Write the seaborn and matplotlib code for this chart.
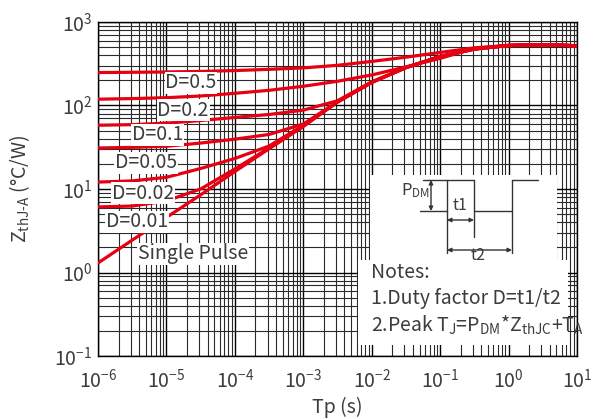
import matplotlib
matplotlib.use("Agg")
import matplotlib.pyplot as plt
import numpy as np
import pandas as pd
import seaborn as sns
from matplotlib.ticker import FixedLocator, FixedFormatter, NullFormatter
from matplotlib.patches import Polygon

# Pulse width Tp (s), half-decade steps
tp = [1e-6, 3.16e-6, 1e-5, 3.16e-5, 1e-4, 3.16e-4, 1e-3, 3.16e-3,
      1e-2, 3.16e-2, 1e-1, 3.16e-1, 1e0, 3.16e0, 1e1]

# Transient thermal impedance Z_thJ-A (°C/W) for each duty factor
z_d050 = [248, 250, 252, 256, 262, 271, 282, 303, 337, 379, 432, 490, 525, 535, 520]
z_d020 = [119, 121, 124, 130, 140, 152, 170, 195, 232, 290, 367, 482, 525, 535, 520]
z_d010 = [58, 59, 61.5, 66, 72, 78, 88, 114, 192, 286, 387, 476, 524, 534, 520]
z_d005 = [31, 31.5, 32.5, 35.5, 39.5, 45, 60, 111, 190, 285, 386, 475, 524, 534, 520]
z_d002 = [12.1, 12.5, 13.8, 17.6, 23.2, 32.7, 58, 110, 189, 284, 385, 474, 523, 533, 520]
z_d001 = [6.1, 6.25, 7.2, 10.0, 17.4, 31, 57, 110, 189, 284, 385, 474, 523, 533, 520]
z_single = [1.3, 2.44, 4.57, 8.5, 16.2, 30.3, 56, 110, 189, 284, 385, 474, 522, 532, 520]

curve_names = ["D=0.5", "D=0.2", "D=0.1", "D=0.05", "D=0.02", "D=0.01", "Single Pulse"]
curve_values = [z_d050, z_d020, z_d010, z_d005, z_d002, z_d001, z_single]

# Curve label anchor points (Tp, Z)
label_tp = [2.29e-5, 1.75e-5, 7.5e-6, 5.0e-6, 4.55e-6, 3.7e-6, 2.45e-5]
label_z = [186, 88.3, 44.4, 20.5, 8.95, 4.03, 1.67]

x_exps = [-6, -5, -4, -3, -2, -1, 0, 1]
y_exps = [-1, 0, 1, 2, 3]
x_ticklabels = [f"$10^{{{e}}}$" for e in x_exps]
y_ticklabels = [f"$10^{{{e}}}$" for e in y_exps]

RED = "#e60012"
TXT = "#3c3c3c"

sns.set_theme(style="white")
plt.rcParams["font.family"] = ["Noto Sans CJK SC", "DejaVu Sans"]
plt.rcParams["mathtext.fontset"] = "custom"
plt.rcParams["mathtext.rm"] = "Noto Sans CJK SC"
plt.rcParams["mathtext.it"] = "Noto Sans CJK SC"
plt.rcParams["mathtext.bf"] = "Noto Sans CJK SC"
plt.rcParams["mathtext.default"] = "regular"

W, H = 593, 419
fig = plt.figure(figsize=(W / 100, H / 100), dpi=100)
AX_L, AX_R, AX_T, AX_B = 98, 577, 22, 356
ax = fig.add_axes([AX_L / W, (H - AX_B) / H, (AX_R - AX_L) / W, (AX_B - AX_T) / H])

df = pd.concat(
    [pd.DataFrame({"tp": tp, "z": v, "curve": n}) for n, v in zip(curve_names, curve_values)],
    ignore_index=True,
)
sns.lineplot(data=df, x="tp", y="z", hue="curve", palette=[RED] * len(curve_names),
             estimator=None, sort=False, legend=False, linewidth=2.3, ax=ax, zorder=3)

ax.set_xscale("log")
ax.set_yscale("log")
ax.set_xlim(1e-6, 1e1)
ax.set_ylim(1e-1, 1e3)

ax.xaxis.set_major_locator(FixedLocator([10.0 ** e for e in x_exps]))
ax.xaxis.set_major_formatter(FixedFormatter(x_ticklabels))
ax.yaxis.set_major_locator(FixedLocator([10.0 ** e for e in y_exps]))
ax.yaxis.set_major_formatter(FixedFormatter(y_ticklabels))
minor_x = [m * 10.0 ** e for e in x_exps[:-1] for m in range(2, 10)]
minor_y = [m * 10.0 ** e for e in y_exps[:-1] for m in range(2, 10)]
ax.xaxis.set_minor_locator(FixedLocator(minor_x))
ax.yaxis.set_minor_locator(FixedLocator(minor_y))
ax.xaxis.set_minor_formatter(NullFormatter())
ax.yaxis.set_minor_formatter(NullFormatter())

ax.grid(which="major", color="#000000", linewidth=1.0, zorder=1)
ax.grid(which="minor", color="#2a2a2a", linewidth=0.8, zorder=1)
ax.set_axisbelow(True)
ax.tick_params(which="both", length=0, labelsize=14, colors=TXT)
ax.tick_params(axis="x", pad=9)
ax.tick_params(axis="y", pad=4)
for s in ax.spines.values():
    s.set_color("#000000")
    s.set_linewidth(1.0)

ax.set_xlabel("Tp (s)", fontsize=14, color=TXT, labelpad=3)
ax.set_ylabel(r"Z$_{thJ\text{-}A}$ (°C/W)", fontsize=14, color=TXT, labelpad=16)

for name, lt, lz in zip(curve_names, label_tp, label_z):
    ax.text(lt, lz, name, fontsize=14, color=TXT, ha="center", va="center", zorder=4,
            bbox=dict(facecolor="white", edgecolor="none", pad=0.6))


# Inset with pulse diagram and notes, placed in pixel units of the axes box
def fx(px):
    return (px - AX_L) / (AX_R - AX_L)


def fy(py):
    return (AX_B - py) / (AX_B - AX_T)


box = [(370, 175), (557, 175), (557, 260), (568, 260), (568, 345),
       (358, 345), (358, 260), (370, 260)]
ax.add_patch(Polygon([(fx(x), fy(y)) for x, y in box], closed=True, transform=ax.transAxes,
                     facecolor="white", edgecolor="none", zorder=5))

LC = "#333333"
segments = [
    [(423, 180), (474, 180)],
    [(420, 211), (447, 211)],
    [(447, 180), (447, 253)],
    [(474, 180), (474, 237)],
    [(474, 211), (512, 211)],
    [(512, 180), (512, 253)],
    [(512, 180), (538, 180)],
]
for seg in segments:
    xs = [fx(p[0]) for p in seg]
    ys = [fy(p[1]) for p in seg]
    ax.plot(xs, ys, color=LC, linewidth=1.0, transform=ax.transAxes, zorder=6)

arrows = [((431, 180), (431, 211)), ((447, 220), (474, 220)), ((447, 250), (512, 250))]
for a, b in arrows:
    ax.annotate("", xy=(fx(b[0]), fy(b[1])), xytext=(fx(a[0]), fy(a[1])),
                xycoords="axes fraction", textcoords="axes fraction", zorder=6,
                arrowprops=dict(arrowstyle="<|-|>", color=LC, linewidth=1.0,
                                mutation_scale=6, shrinkA=0, shrinkB=0))

ax.text(fx(401), fy(191), r"P$_{DM}$", fontsize=12, color=TXT, ha="left", va="center",
        transform=ax.transAxes, zorder=7)
ax.text(fx(460), fy(205), "t1", fontsize=11.5, color=TXT, ha="center", va="center",
        transform=ax.transAxes, zorder=7)
ax.text(fx(478), fy(256), "t2", fontsize=11.5, color=TXT, ha="center", va="center",
        transform=ax.transAxes, zorder=7)

notes = ["Notes:", "1.Duty factor D=t1/t2",
         r"2.Peak T$_J$=P$_{DM}$*Z$_{thJC}$+T$_A$"]
for i, line in enumerate(notes):
    ax.text(fx(371), fy(272 + 26.5 * i), line, fontsize=14, color=TXT, ha="left",
            va="center", transform=ax.transAxes, zorder=7)

fig.savefig("out.png", dpi=100)
